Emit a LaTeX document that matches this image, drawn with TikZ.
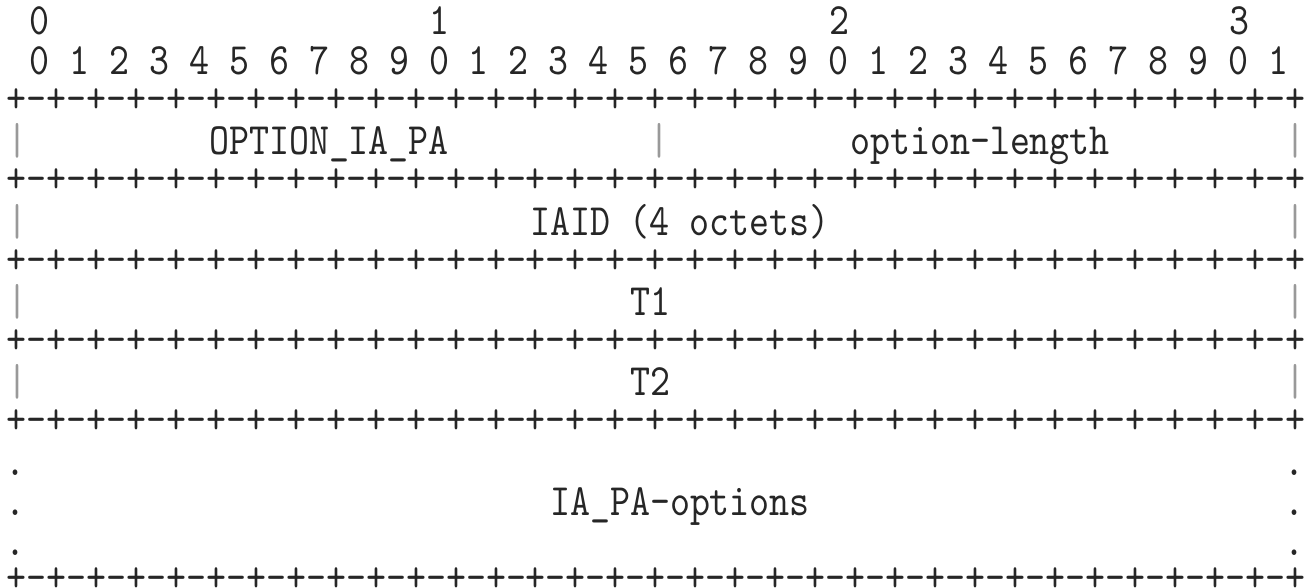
\documentclass[tikz,border=0pt]{standalone}
\usepackage{fontspec}
\newfontfamily\asciifont[FakeStretch=0.85]{lmmono10-regular.otf}
\tikzstyle{txt}=[inner sep=0pt,anchor=base,text=black!85,font=\asciifont\fontsize{44.8}{48}\selectfont]
\tikzstyle{rule}=[txt,anchor=base west,text height=24pt,text depth=0pt]
\tikzstyle{bar}=[txt,text=black!40,text height=26pt,text depth=4pt]

\begin{document}
\begin{tikzpicture}[x=1pt,y=-1pt]
  \useasboundingbox (0,0) rectangle (1306,588);
  % bit numbers
  \node[txt] (d0) at (39,35) {0};
  \node[txt] (d1) at (439,35) {1};
  \node[txt] (d2) at (839,35) {2};
  \node[txt] (d3) at (1239,35) {3};
  \node[rule] (bits) at (29,75) {0 1 2 3 4 5 6 7 8 9 0 1 2 3 4 5 6 7 8 9 0 1 2 3 4 5 6 7 8 9 0 1};
  % separator lines
  \node[rule] (r0) at (6,113) {+-+-+-+-+-+-+-+-+-+-+-+-+-+-+-+-+-+-+-+-+-+-+-+-+-+-+-+-+-+-+-+-+};
  \node[rule] (r1) at (6,193) {+-+-+-+-+-+-+-+-+-+-+-+-+-+-+-+-+-+-+-+-+-+-+-+-+-+-+-+-+-+-+-+-+};
  \node[rule] (r2) at (6,273) {+-+-+-+-+-+-+-+-+-+-+-+-+-+-+-+-+-+-+-+-+-+-+-+-+-+-+-+-+-+-+-+-+};
  \node[rule] (r3) at (6,353) {+-+-+-+-+-+-+-+-+-+-+-+-+-+-+-+-+-+-+-+-+-+-+-+-+-+-+-+-+-+-+-+-+};
  \node[rule] (r4) at (6,433) {+-+-+-+-+-+-+-+-+-+-+-+-+-+-+-+-+-+-+-+-+-+-+-+-+-+-+-+-+-+-+-+-+};
  \node[rule] (r5) at (6,591) {+-+-+-+-+-+-+-+-+-+-+-+-+-+-+-+-+-+-+-+-+-+-+-+-+-+-+-+-+-+-+-+-+};
  % fields
  \node[bar] (b1l) at (17,155) {|};
  \node[txt] (opttype) at (329,155) {OPTION\_IA\_PA};
  \node[bar] (b1m) at (659,155) {|};
  \node[txt] (optlen) at (980,155) {option-length};
  \node[bar] (b1r) at (1295,155) {|};
  \node[bar] (b2l) at (17,235) {|};
  \node[txt] (iaid) at (680,235) {IAID (4 octets)};
  \node[bar] (b2r) at (1295,235) {|};
  \node[bar] (b3l) at (17,315) {|};
  \node[txt] (tone) at (650,315) {T1};
  \node[bar] (b3r) at (1295,315) {|};
  \node[bar] (b4l) at (17,395) {|};
  \node[txt] (ttwo) at (650,395) {T2};
  \node[bar] (b4r) at (1295,395) {|};
  \node[txt] (paopts) at (680,515) {IA\_PA-options};
  \foreach \y in {475,515,555} {
    \node[txt] (dl\y) at (15,\y) {.};
    \node[txt] (dr\y) at (1294,\y) {.};
  }
\end{tikzpicture}
\end{document}
